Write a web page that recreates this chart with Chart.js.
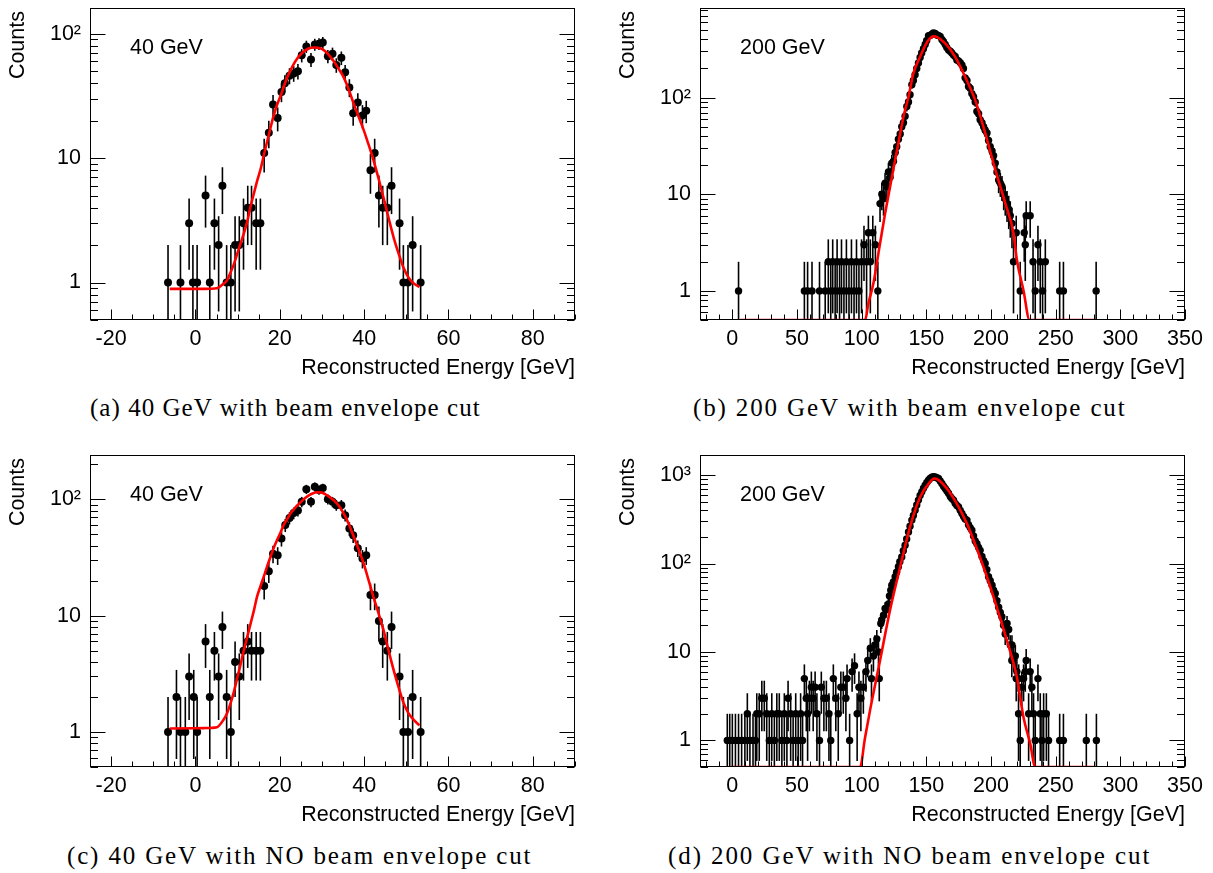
<!DOCTYPE html>
<html>
<head>
<meta charset="utf-8">
<script src="https://cdn.jsdelivr.net/npm/chart.js@4.4.1/dist/chart.umd.min.js"></script>
<style>
  body { margin: 0; background: #fff; width: 1213px; height: 873px; position: relative; overflow: hidden; }
  canvas { position: absolute; }
  .cap { position: absolute; font-family: "Liberation Serif", "Times New Roman", serif; font-size: 25px; line-height: 28px; white-space: nowrap; color: #000; }
</style>
</head>
<body>
<canvas id="cA" width="600" height="390" style="left:0;top:0"></canvas>
<canvas id="cB" width="603" height="390" style="left:610px;top:0"></canvas>
<canvas id="cC" width="600" height="390" style="left:0;top:440px"></canvas>
<canvas id="cD" width="603" height="390" style="left:610px;top:440px"></canvas>
<div class="cap" data-w="390" style="left:90px;top:394px">(a) 40 GeV with beam envelope cut</div>
<div class="cap" data-w="432" style="left:693px;top:394px">(b) 200 GeV with beam envelope cut</div>
<div class="cap" data-w="464" style="left:67px;top:842px">(c) 40 GeV with NO beam envelope cut</div>
<div class="cap" data-w="482" style="left:668px;top:842px">(d) 200 GeV with NO beam envelope cut</div>
<script>
// histogram bins [energy GeV, counts]
const pointsA = [[-6.5,1],[-3.55,1],[-1.5,3],[-0.6,1],[0.4,1],[2.4,5],[3.4,1],[4.5,3],[5.5,2],[6.4,6],
  [7.4,1],[8.4,1],[9.4,2],[10.4,2],[11.4,3],[12.4,4],[13.3,4],[14.4,3],[15.4,3],[16.3,11],
  [17.4,16],[18.4,27],[19.5,21],[20.4,34],[21.2,40],[22.3,46],[23.3,48],[24.3,50],[25.2,67],[26.3,79],
  [27.4,62],[28.3,82],[29.3,83],[30.2,85],[31.4,66],[32.5,69],[33.4,56],[34.6,64],[35.5,49],[36.5,37],
  [37.4,23],[38.5,28],[39.6,22],[40.5,24],[41.5,8],[42.5,11],[43.5,5],[44.4,4],[45.5,4],[46.5,6],
  [48.4,3],[49.3,1],[50.4,1],[51.5,2],[53.4,1]];
// fitted curve [energy GeV, counts]
const fitA = [[-6.1,0.89],[2,0.89],[5.1,0.9],[6.5,0.97],[7.5,1.04],[8.3,1.2],[9.1,1.4],[9.9,1.7],[10.7,2.06],[11.5,2.5],
  [12.3,3.1],[13,4],[13.8,5.1],[14.6,6.5],[15.5,8.3],[16.2,10.5],[17,13.6],[17.7,17],[18.5,21.7],[19.3,26.5],
  [20.2,31.7],[21,38],[21.7,44],[22.5,50.5],[23.3,57],[24.1,63],[24.9,68],[25.7,72],[26.5,75],[27.4,77],
  [28.3,77.5],[29.2,77],[30,75.5],[31.4,69],[32.8,60],[34,52],[35.1,45],[36.3,36],[37.5,27.5],[38.7,21.5],
  [39.9,16.8],[41,13],[42.2,9.7],[43.4,6.9],[44.6,4.8],[45.8,3.3],[47,2.3],[48.2,1.7],[49.4,1.3],[50.5,1.1],
  [51.5,1.0],[53.1,0.92]];

const pointsB = [[4.8,1],[55.7,1],[58.2,1],[61.6,1],[67.4,1],[71.8,1],[74.2,2],[76.1,1],[77.6,2],[79.5,1],
  [81,2],[82.9,1],[84.4,2],[86.3,1],[88.2,2],[90.2,1],[92.1,2],[94.1,1],[96,2],[97.9,1],
  [99.9,2],[101.8,3],[103.8,2],[105.2,4],[106.7,2],[108.6,4],[110.6,3],[112.5,1],[114.2,8],[115.6,10],
  [116.9,9],[118.1,13],[119.5,12],[120.7,17],[122,15],[123.3,21],[124.6,22],[125.9,27],[127.1,31],[128.4,37],
  [129.8,42],[131,50],[132.3,55],[133.6,64],[134.9,81],[136.2,90],[137.4,107],[138.8,136],[140,150],[141.3,172],
  [142.6,200],[143.9,228],[145.2,260],[146.4,290],[147.8,320],[149.1,354],[150.3,390],[151.7,438],[152.9,440],[154.2,452],
  [155.5,465],[156.8,460],[158.1,445],[159.3,440],[160.7,430],[162,400],[163.2,380],[164.6,354],[165.8,330],[167.2,310],
  [168.5,302],[169.7,290],[171,275],[172.3,266],[173.6,245],[174.9,240],[176.2,230],[177.5,218],[178.7,200],[180,160],
  [181.4,150],[182.6,130],[183.9,125],[185.2,110],[186.5,102],[187.8,90],[189.1,72],[190.4,68],[191.6,59],[193,55],
  [194.3,50],[195.5,46],[196.9,43],[198.1,36],[199.4,31],[200.8,28],[202,25],[203.3,21],[204.6,17],[205.9,14],
  [207.2,13],[208.5,12],[209.8,10],[211,9],[212.4,8],[213.7,7],[214.9,6],[216.2,5],[217.4,2],[219.5,4],
  [222.6,1],[225.7,4],[226.5,3],[227.2,6],[230.3,6],[232.5,2],[234.2,1],[236.3,3],[238.1,2],[239.9,1],
  [242,2],[253.1,1],[256,1],[281.3,1]];
const fitB = [[6,0.5],[102.7,0.5],[105,0.72],[109.1,1.2],[113.8,2.87],[118.1,6.3],[122,12],[125.9,22.7],[129.8,42.6],[132.3,63],
  [136.2,102],[140,178],[145.2,265],[150.9,380],[155.5,430],[158,425],[164.6,364],[172.3,264],[180,164],[187.8,94],
  [195.5,43],[203.3,18],[211,8.1],[217.4,3.95],[220,2.1],[225.2,1.0],[229.8,0.5],[279.7,0.5]];

const pointsC = [[-6.5,1],[-4.5,2],[-3.55,1],[-2.4,1],[-1.5,3],[-0.4,2],[0.4,1],[2.4,6],[3.4,2],[4.5,5],
  [5.5,3],[6.4,8],[7.4,2],[8.4,1],[9.4,4],[10.4,3],[11.4,5],[12.4,6],[13.3,5],[14.4,5],
  [15.4,5],[16.3,18],[17.4,24],[18.4,34],[19.5,33],[20.4,46],[21.3,60],[22.3,69],[23.3,76],[24.3,80],
  [25.2,95],[26.3,122],[27.4,95],[28.3,128],[29.3,120],[30.2,125],[31.4,100],[32.5,95],[33.4,89],[34.6,89],
  [35.5,73],[36.5,56],[37.4,49],[38.5,38],[39.6,31],[40.5,33],[41.5,15],[42.5,15],[43.5,9],[44.4,6],
  [45.5,5],[46.5,8],[48.4,3],[49.3,1],[50.4,1],[51.5,2],[53.4,1]];
const fitC = [[-6.1,1.07],[2,1.08],[5.1,1.1],[6.7,1.28],[7.5,1.45],[8.3,1.75],[9.1,2.2],[9.9,2.9],[10.7,3.8],[11.4,4.9],
  [12.3,6.6],[13.1,8.6],[13.9,11.2],[14.6,14.5],[15.4,17.8],[16.2,21.6],[17,26.5],[17.8,32],[18.6,38.5],[19.4,45],
  [20.2,52],[20.9,60],[21.8,68],[22.6,76],[23.7,85],[24.9,94],[26.1,103],[27.3,110],[28.7,115],[30,114],
  [31.4,107],[32.8,98],[34,88],[35.1,76],[36.3,62],[37.5,48],[38.7,37],[39.9,28],[41,20.5],[42.2,14.5],
  [43.4,10.5],[44.6,7.5],[45.8,5],[47,3.4],[48.2,2.4],[49.4,1.76],[50.5,1.45],[51.5,1.3],[53.1,1.14]];

const pointsD = [[-3.9,1],[-2,1],[0,1],[2.4,1],[4.8,1],[7.2,1],[9.7,1],[11.6,2],[13.6,1],[16,1],
  [17.9,1],[18.9,2],[20.8,2],[22.8,3],[24.7,3],[26.6,2],[28.6,1],[30.5,2],[32.5,1],[34.4,2],
  [36.3,2],[38.3,1],[40.2,2],[42.2,1],[43.1,3],[45.1,2],[47,1],[49,2],[50.9,1],[52.8,2],
  [54.3,1],[55.7,5],[57.2,3],[58.2,2],[59.6,3],[61.1,4],[62.5,3],[64,4],[65.4,2],[67.4,1],
  [68.8,4],[70.8,3],[72.7,3],[74.7,2],[76.1,1],[78.1,5],[80,3],[81.9,2],[83.9,4],[85.8,4],
  [87.8,3],[88.7,5],[90.7,1],[92.6,6],[94.5,7],[96.5,2],[97.9,4],[99.4,3],[101.3,4],[103.3,6],
  [104.7,8],[106.7,11],[107.6,5],[109.1,9],[110.2,12],[111.7,14],[113,10],[113.6,5],[114.8,21],[115.5,23],
  [116.9,26],[118.1,31],[119,30],[120.7,35],[121.5,43],[122.5,50],[123.3,57],[124.5,62],[125.9,71],[127,80],
  [128.4,92],[129.5,105],[131,119],[132.2,140],[133.6,161],[134.8,190],[136.2,228],[137.4,265],[138.8,310],[140,350],
  [141.3,402],[142.6,460],[143.9,522],[145.2,590],[146.5,647],[147.8,710],[149.1,770],[150.4,825],[151.7,877],[152.9,915],
  [154.2,950],[155.5,960],[156.8,955],[158.1,935],[159.4,915],[160.7,860],[162,805],[163.3,750],[164.6,708],[165.8,665],
  [167.1,624],[168.5,575],[169.7,545],[171,522],[172.3,480],[173.6,455],[174.9,438],[176.2,400],[177.5,369],[178.8,340],
  [180,320],[181.4,310],[182.6,275],[183.9,255],[185.2,238],[186.5,205],[187.8,180],[189.1,168],[190.4,152],[191.6,141],
  [193,120],[194.3,108],[195.5,100],[196.8,85],[198.1,71],[199.4,64],[200.8,57],[202,50],[203.3,46],[204.6,38],
  [205.9,32],[207.2,28],[208.4,25],[209.7,20],[211,16],[212.4,21],[213.7,18],[214.9,12],[216.2,12],[217.5,9],
  [218.8,9],[220,6],[221.4,5],[216.1,8],[219.5,5],[221.3,2],[222.6,1],[223.8,4],[225.2,5],[226.5,6],
  [227.2,8],[229.1,2],[230.3,6],[231.6,4],[232.9,2],[234.2,1],[236.3,5],[238.1,2],[239.4,1],[240.7,2],
  [242.8,2],[244.5,1],[253.1,1],[256,1],[273.7,1],[281.5,1]];
const fitD = [[-1.8,0.5],[98.8,0.5],[102.5,1.05],[106.5,2.2],[114.2,8],[122,30],[129.8,92],[137.4,260],[145.2,565],[152.9,840],
  [156,915],[158.1,905],[165.8,708],[173.5,477],[181.3,285],[189,148],[196.8,71],[204.5,32],[212.3,13.5],[220,5.2],
  [225.2,1.8],[230.3,0.92],[234.2,0.5],[279.7,0.5]];

const FONT = '"Liberation Sans", Arial, Helvetica, sans-serif';
const TXT = 21.5;
const SUP = ['\u2070', '\u00b9', '\u00b2', '\u00b3', '\u2074'];

// frame, inward ticks, titles and sqrt(N) error bars
const frameAxes = {
  id: 'frameAxes',
  beforeDatasetsDraw(chart) {
    const { ctx, chartArea: a, scales: { x, y } } = chart;
    ctx.save();
    ctx.beginPath();
    ctx.rect(a.left, a.top, a.right - a.left, a.bottom - a.top);
    ctx.clip();
    ctx.strokeStyle = '#000';
    ctx.lineWidth = 1.6;
    chart.data.datasets.forEach(ds => {
      if (!ds.errorBars) return;
      ds.data.forEach(p => {
        const px = x.getPixelForValue(p.x);
        const e = Math.sqrt(p.y);
        const top = y.getPixelForValue(p.y + e);
        const lo = p.y - e > 0 ? y.getPixelForValue(p.y - e) : a.bottom + 5;
        ctx.beginPath();
        ctx.moveTo(px, top);
        ctx.lineTo(px, lo);
        ctx.stroke();
      });
    });
    ctx.restore();
  },
  afterDraw(chart, args, opts) {
    const { ctx, chartArea: a, scales: { x, y } } = chart;
    const L = Math.round(a.left) + 0.5, R = Math.round(a.right) - 0.5;
    const T = Math.round(a.top) + 0.5, B = Math.round(a.bottom) - 0.5;
    ctx.save();
    ctx.strokeStyle = '#000';
    ctx.lineWidth = 1;
    ctx.strokeRect(L, T, R - L, B - T);
    const seg = (x1, y1, x2, y2) => { ctx.beginPath(); ctx.moveTo(x1, y1); ctx.lineTo(x2, y2); ctx.stroke(); };

    for (let v = Math.ceil(x.min / opts.xMinor) * opts.xMinor; v <= x.max + 1e-9; v += opts.xMinor) {
      const px = Math.round(x.getPixelForValue(v)) + 0.5;
      const r = v / opts.xMajor;
      const len = Math.abs(r - Math.round(r)) < 1e-6 ? 10 : 5;
      seg(px, B, px, B - len);
    }
    const k0 = Math.floor(Math.log10(y.min)), k1 = Math.ceil(Math.log10(y.max));
    for (let k = k0; k <= k1; k++) {
      for (let m = 1; m <= 9; m++) {
        const v = m * Math.pow(10, k);
        if (v < y.min || v > y.max) continue;
        const py = Math.round(y.getPixelForValue(v)) + 0.5;
        const len = m === 1 ? 15 : 7.5;
        seg(L, py, L + len, py);
        seg(R, py, R - len, py);
      }
    }

    ctx.fillStyle = '#000';
    ctx.font = TXT + 'px ' + FONT;
    ctx.textAlign = 'right';
    ctx.textBaseline = 'alphabetic';
    ctx.fillText('Reconstructed Energy [GeV]', a.right, a.bottom + 54);
    ctx.textAlign = 'left';
    ctx.textBaseline = 'middle';
    ctx.fillText(opts.label, a.left + 40, a.top + 40);
    ctx.save();
    ctx.translate(18, a.top + 3);
    ctx.rotate(-Math.PI / 2);
    ctx.textAlign = 'right';
    ctx.fillText('Counts', 0, 0);
    ctx.restore();
    ctx.restore();
  }
};

function drawPanel(id, points, fit, cfg) {
  return new Chart(document.getElementById(id), {
    type: 'scatter',
    data: {
      datasets: [
        {
          type: 'line',
          data: fit.map(([x, y]) => ({ x, y })),
          borderColor: '#ff0000',
          borderWidth: 2.6,
          pointRadius: 0,
          fill: false,
          cubicInterpolationMode: 'monotone',
          order: 0
        },
        {
          data: points.map(([x, y]) => ({ x, y })),
          errorBars: true,
          backgroundColor: '#000',
          borderWidth: 0,
          pointRadius: cfg.r,
          order: 1
        }
      ]
    },
    options: {
      responsive: false,
      animation: false,
      devicePixelRatio: 1,
      events: [],
      layout: { padding: { top: cfg.padTop, right: cfg.padRight, left: 0, bottom: 0 }, autoPadding: false },
      plugins: {
        legend: { display: false },
        tooltip: { enabled: false },
        frameAxes: { label: cfg.label, xMajor: cfg.xMajor, xMinor: cfg.xMinor }
      },
      scales: {
        x: {
          type: 'linear',
          min: cfg.xMin,
          max: cfg.xMax,
          grid: { display: false, drawTicks: false },
          border: { display: false },
          ticks: {
            stepSize: cfg.xMajor,
            includeBounds: false,
            autoSkip: false,
            maxRotation: 0,
            padding: 6,
            color: '#000',
            font: { family: FONT, size: TXT },
            callback: v => String(v)
          },
          afterFit: s => { s.height = cfg.xh; s.paddingLeft = 0; s.paddingRight = 0; }
        },
        y: {
          type: 'logarithmic',
          min: cfg.yMin,
          max: cfg.yMax,
          grid: { display: false, drawTicks: false },
          border: { display: false },
          ticks: {
            autoSkip: false,
            padding: 9,
            color: '#000',
            font: { family: FONT, size: TXT },
            callback: v => {
              const l = Math.log10(v);
              if (Math.abs(l - Math.round(l)) > 1e-6) return '';
              const k = Math.round(l);
              return k === 0 ? '1' : k === 1 ? '10' : '10' + SUP[k];
            }
          },
          afterFit: s => { s.width = 90; s.paddingTop = 0; s.paddingBottom = 0; }
        }
      }
    },
    plugins: [frameAxes]
  });
}

drawPanel('cA', pointsA, fitA, { label: '40 GeV', xMin: -25, xMax: 90, xMajor: 20, xMinor: 5, yMin: 0.5, yMax: 161, padTop: 8, padRight: 25, xh: 70, r: 4 });
drawPanel('cB', pointsB, fitB, { label: '200 GeV', xMin: -25, xMax: 350, xMajor: 50, xMinor: 10, yMin: 0.5, yMax: 845, padTop: 8, padRight: 28, xh: 70, r: 3.7 });
drawPanel('cC', pointsC, fitC, { label: '40 GeV', xMin: -25, xMax: 90, xMajor: 20, xMinor: 5, yMin: 0.5, yMax: 240, padTop: 15, padRight: 25, xh: 63, r: 4 });
drawPanel('cD', pointsD, fitD, { label: '200 GeV', xMin: -25, xMax: 350, xMajor: 50, xMinor: 10, yMin: 0.5, yMax: 1690, padTop: 15, padRight: 28, xh: 63, r: 3.7 });

// stretch each caption to the width it has in the figure
const meas = document.createElement('canvas').getContext('2d');
meas.font = '25px "Liberation Serif", "Times New Roman", serif';
document.querySelectorAll('.cap').forEach(el => {
  const txt = el.textContent;
  const w = meas.measureText(txt).width;
  el.style.letterSpacing = ((+el.dataset.w - w) / (txt.length - 1)).toFixed(2) + 'px';
});
</script>
</body>
</html>
